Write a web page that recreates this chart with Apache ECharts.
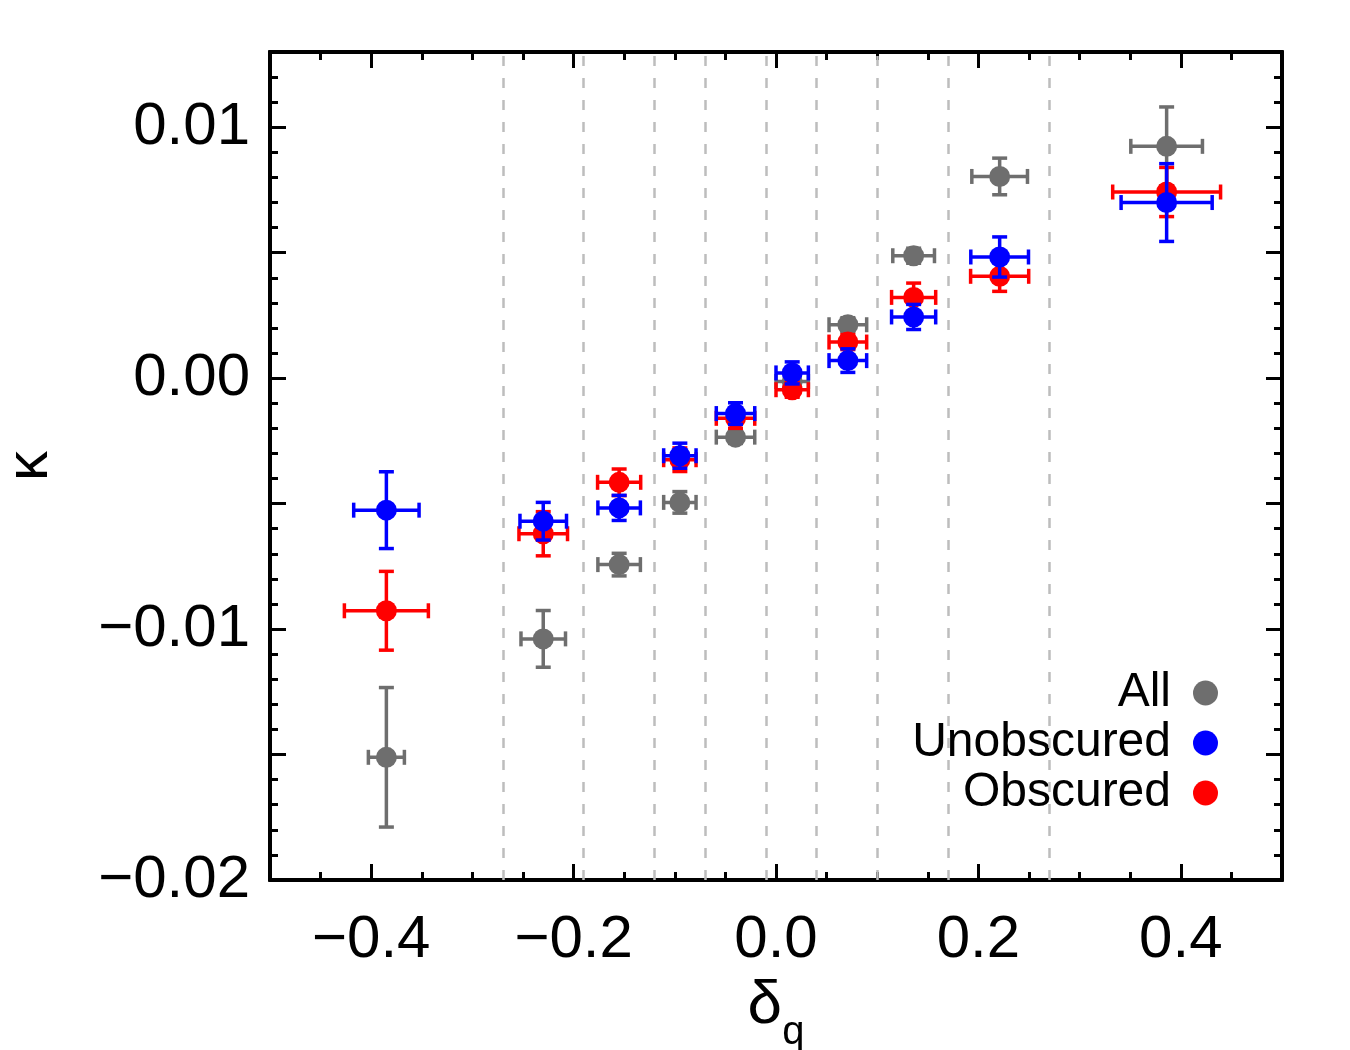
<!DOCTYPE html>
<html>
<head>
<meta charset="utf-8">
<script src="https://cdn.jsdelivr.net/npm/echarts@6/dist/echarts.min.js"></script>
<style>
  html, body { margin: 0; padding: 0; background: #fff; }
  #chart { width: 1350px; height: 1050px; }
</style>
</head>
<body>
<div id="chart"></div>
<script>
// bin centres in delta_q (shared by all samples)
const deltaQ = [-0.385, -0.23, -0.155, -0.095, -0.04, 0.016, 0.071, 0.136, 0.221, 0.386];

// All
const kappaAll = [-0.01511, -0.01039, -0.00743, -0.00495, -0.00235, -0.00013, 0.00213, 0.00488, 0.00804, 0.00924];
const kappaAllErr = [0.00278, 0.00113, 0.00045, 0.00043, 0.00025, 0.0002, 0.00028, 0.0003, 0.00073, 0.00157];
const dqAllErr = [0.0178, 0.022, 0.021, 0.016, 0.019, 0.016, 0.0186, 0.0206, 0.0275, 0.0354];

// Unobscured
const kappaUnobs = [-0.00526, -0.0057, -0.00517, -0.00309, -0.00141, 0.00021, 0.0007, 0.00244, 0.00483, 0.007];
const kappaUnobsErr = [0.00153, 0.00075, 0.0005, 0.0005, 0.00043, 0.00044, 0.00047, 0.0005, 0.0008, 0.00155];
const dqUnobsErr = [0.0323, 0.023, 0.021, 0.016, 0.019, 0.016, 0.0186, 0.0218, 0.0285, 0.045];

// Obscured
const kappaObs = [-0.00927, -0.0062, -0.00415, -0.00325, -0.0016, -0.00046, 0.00144, 0.00322, 0.00406, 0.00742];
const kappaObsErr = [0.00157, 0.00088, 0.00053, 0.00047, 0.0004, 0.0003, 0.0003, 0.00057, 0.0006, 0.00098];
const dqObsErr = [0.0415, 0.024, 0.0213, 0.016, 0.019, 0.016, 0.0186, 0.0218, 0.0287, 0.0533];

// dashed bin edges
const binEdges = [-0.27, -0.19, -0.12, -0.07, -0.01, 0.04, 0.10, 0.17, 0.27];

// tick labels
const xTickLabels = [-0.4, -0.2, 0.0, 0.2, 0.4];
const yTickLabels = [-0.02, -0.01, 0.0, 0.01];

const FONT = "'Liberation Sans', Arial, Helvetica, sans-serif";
const MINUS = "\u2212";

const chart = echarts.init(document.getElementById("chart"));

function fmt(v, digits) {
  const s = Math.abs(v).toFixed(digits);
  return v < -1e-9 ? MINUS + s : s;
}

function rows(ys, xe, ye) {
  return deltaQ.map((x, i) => [x, ys[i], xe[i], ye[i]]);
}

function errorBars(color) {
  return function (params, api) {
    const x = api.value(0), y = api.value(1);
    const xe = api.value(2), ye = api.value(3);
    const c = api.coord([x, y]);
    const l = api.coord([x - xe, y]);
    const r = api.coord([x + xe, y]);
    const t = api.coord([x, y + ye]);
    const b = api.coord([x, y - ye]);
    const cap = 7.5;
    const st = { stroke: color, lineWidth: 3.5 };
    const seg = (x1, y1, x2, y2) => ({ type: "line", shape: { x1, y1, x2, y2 }, style: st });
    return {
      type: "group",
      children: [
        seg(l[0], l[1], r[0], r[1]),
        seg(t[0], t[1], b[0], b[1]),
        seg(l[0], l[1] - cap, l[0], l[1] + cap),
        seg(r[0], r[1] - cap, r[0], r[1] + cap),
        seg(t[0] - cap, t[1], t[0] + cap, t[1]),
        seg(b[0] - cap, b[1], b[0] + cap, b[1]),
        { type: "circle", shape: { cx: c[0], cy: c[1], r: 10.5 }, style: { fill: color } },
      ],
    };
  };
}

const axisLine = { show: true, onZero: false, lineStyle: { color: "#000", width: 4 } };
const minorTick = { show: true, inside: true, length: 8, lineStyle: { color: "#000", width: 3 } };
const majorTick = { show: true, inside: true, length: 16, lineStyle: { color: "#000", width: 3 } };

function xAx(position, major, withLabels) {
  const a = {
    type: "value", min: -0.5, max: 0.5, position,
    axisLine, splitLine: { show: false },
    axisLabel: { show: false },
  };
  if (major) {
    a.axisTick = Object.assign({ customValues: xTickLabels }, majorTick);
    if (withLabels) {
      a.axisLabel = {
        show: true, customValues: xTickLabels, margin: 30,
        fontSize: 60, fontFamily: FONT, color: "#000",
        formatter: (v) => fmt(v, 1),
      };
      a.name = "{d|\u03b4}{q|q}";
      a.nameLocation = "middle";
      a.nameGap = 92;
      a.nameTextStyle = {
        rich: {
          d: { fontSize: 62, fontFamily: FONT, color: "#000", verticalAlign: "bottom", padding: [0, 0, 16, 0] },
          q: { fontSize: 40, fontFamily: FONT, color: "#000", verticalAlign: "bottom" },
        },
      };
    }
  } else {
    a.interval = 0.05;
    a.axisTick = minorTick;
  }
  return a;
}

function yAx(position, major, withLabels) {
  const a = {
    type: "value", min: -0.02, max: 0.013, position,
    axisLine, splitLine: { show: false },
    axisLabel: { show: false },
  };
  if (major) {
    a.interval = 0.005;
    a.axisTick = majorTick;
    if (withLabels) {
      a.axisLabel = {
        show: true, customValues: yTickLabels, margin: 20,
        fontSize: 60, fontFamily: FONT, color: "#000",
        formatter: (v) => fmt(v, 2),
      };
      a.name = "\u03ba";
      a.nameLocation = "middle";
      a.nameRotate = 90;
      a.nameGap = 210;
      a.nameTextStyle = { fontSize: 60, fontFamily: FONT, color: "#000" };
    }
  } else {
    a.interval = 0.001;
    a.axisTick = minorTick;
  }
  return a;
}

const option = {
  animation: false,
  backgroundColor: "#fff",
  grid: { left: 270, right: 68, top: 52, bottom: 170, containLabel: false, outerBoundsMode: "none" },
  xAxis: [
    xAx("bottom", false, false),
    xAx("bottom", true, true),
    xAx("top", false, false),
    xAx("top", true, false),
  ],
  yAxis: [
    yAx("left", false, false),
    yAx("left", true, true),
    yAx("right", false, false),
    yAx("right", true, false),
  ],
  legend: {
    data: ["All", "Unobscured", "Obscured"],
    orient: "vertical",
    right: 127,
    top: 663,
    align: "right",
    icon: "circle",
    itemWidth: 25,
    itemHeight: 25,
    itemGap: 0,
    selectedMode: false,
    textStyle: { fontSize: 48, fontFamily: FONT, color: "#000", lineHeight: 50, padding: [0, 17, 0, 0] },
  },
  series: [
    {
      name: "edges",
      type: "line",
      data: [],
      silent: true,
      markLine: {
        silent: true,
        symbol: ["none", "none"],
        label: { show: false },
        lineStyle: { color: "#bdbdbd", width: 2.5, type: [10, 12] },
        data: binEdges.map((v) => ({ xAxis: v })),
      },
    },
    {
      name: "All",
      type: "custom",
      color: "#6e6e6e",
      itemStyle: { color: "#6e6e6e" },
      renderItem: errorBars("#6e6e6e"),
      encode: { x: 0, y: 1 },
      clip: false,
      data: rows(kappaAll, dqAllErr, kappaAllErr),
    },
    {
      name: "Obscured",
      type: "custom",
      color: "#ff0000",
      itemStyle: { color: "#ff0000" },
      renderItem: errorBars("#ff0000"),
      encode: { x: 0, y: 1 },
      clip: false,
      data: rows(kappaObs, dqObsErr, kappaObsErr),
    },
    {
      name: "Unobscured",
      type: "custom",
      color: "#0000ff",
      itemStyle: { color: "#0000ff" },
      renderItem: errorBars("#0000ff"),
      encode: { x: 0, y: 1 },
      clip: false,
      data: rows(kappaUnobs, dqUnobsErr, kappaUnobsErr),
    },
  ],
};

chart.setOption(option);
</script>
</body>
</html>
